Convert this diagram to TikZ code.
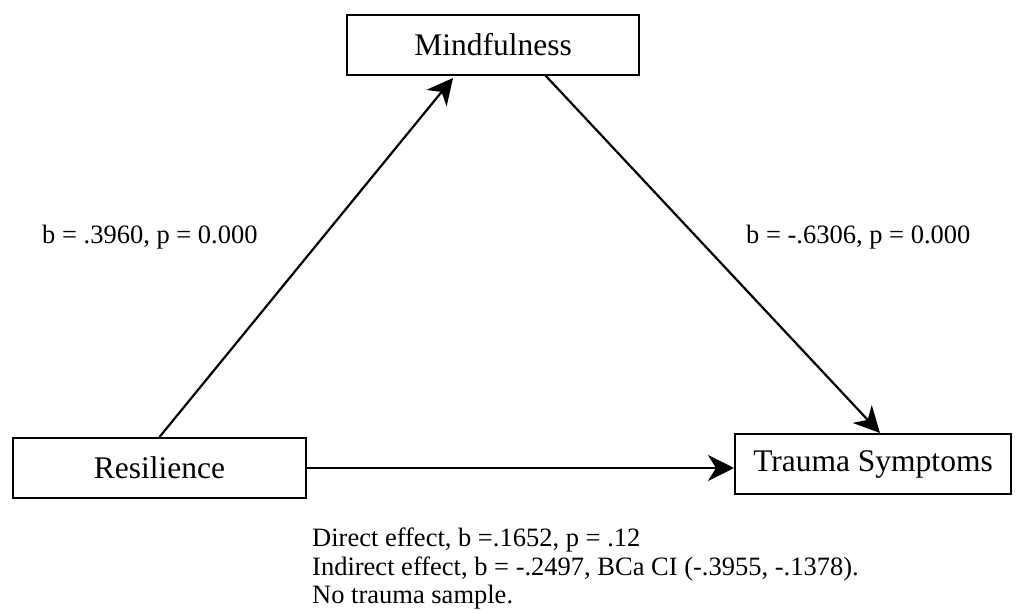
\documentclass[tikz,border=0pt]{standalone}
\usepackage{fontspec}
\setmainfont{Liberation Serif}
\usetikzlibrary{arrows.meta}
\begin{document}
\begin{tikzpicture}[x=1pt,y=-1pt,
  box/.style={draw=black,line width=2pt,fill=white,minimum height=60pt,inner sep=0pt,
    font=\fontsize{31.5}{34}\selectfont},
  lab/.style={anchor=base west,inner sep=0pt,font=\fontsize{26.5}{29}\selectfont},
  arr/.style={line width=2.2pt,-{Stealth[length=26pt,width=26pt,inset=8pt]}}]
\useasboundingbox (0,0) rectangle (1016,613);
\node[box,minimum width=292pt] (m) at (493,44.5) {Mindfulness};
\node[box,minimum width=293pt] (r) at (159.5,468) {Resilience};
\node[box,minimum width=276pt] (t) at (873,464) {Trauma Symptoms};
\coordinate (mend) at (453,78);
\coordinate (mstart) at (545,75);
\coordinate (tend) at (880,433);
\draw[arr] (r.north) -- (mend);
\draw[arr] (mstart) -- (tend);
\draw[arr] (r.east) -- (t.west |- r.east);
\node[lab] (l1) at (42,243) {b = .3960, p = 0.000};
\node[lab] (l2) at (746,243) {b = -.6306, p = 0.000};
\node[lab] (d1) at (312,546) {Direct effect, b =.1652, p = .12};
\node[lab] (d2) at (312,575) {Indirect effect, b = -.2497, BCa CI (-.3955, -.1378).};
\node[lab] (d3) at (312,603.5) {No trauma sample.};
\end{tikzpicture}
\end{document}
